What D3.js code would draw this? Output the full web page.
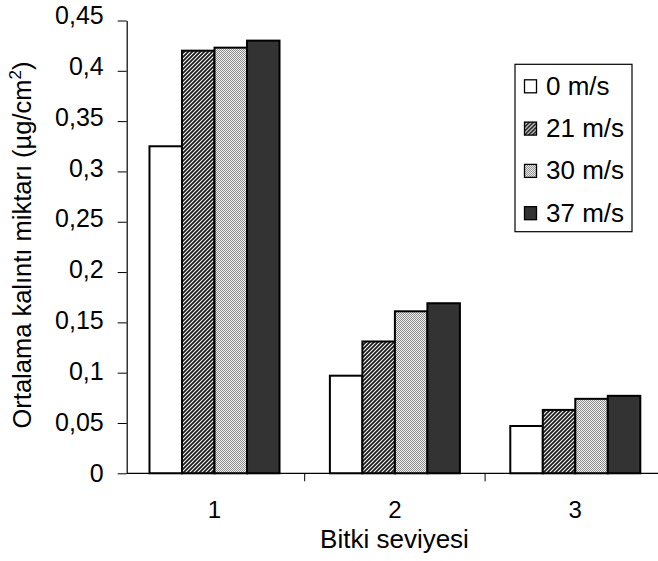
<!DOCTYPE html>
<html>
<head>
<meta charset="utf-8">
<script src="https://cdn.jsdelivr.net/npm/d3@7"></script>
<style>
  body { margin: 0; background: #fff; }
  svg { display: block; font-family: "Liberation Sans", Arial, sans-serif; }
</style>
</head>
<body>
<script>
const categories = ["1", "2", "3"];
const seriesNames = ["0 m/s", "21 m/s", "30 m/s", "37 m/s"];
const v0 = [0.325, 0.097, 0.047];
const v21 = [0.420, 0.131, 0.063];
const v30 = [0.423, 0.161, 0.074];
const v37 = [0.430, 0.169, 0.077];
const yTicks = [0, 0.05, 0.1, 0.15, 0.2, 0.25, 0.3, 0.35, 0.4, 0.45];
const yTickLabels = ["0", "0,05", "0,1", "0,15", "0,2", "0,25", "0,3", "0,35", "0,4", "0,45"];

const series = [v0, v21, v30, v37];
const width = 658, height = 561;
const axisX = 126.7;

const svg = d3.select("body").append("svg")
    .attr("width", width)
    .attr("height", height);

const defs = svg.append("defs");
defs.append("pattern")
    .attr("id", "hatch")
    .attr("patternUnits", "userSpaceOnUse")
    .attr("width", 4).attr("height", 4)
  .call(p => {
    p.append("rect").attr("width", 4).attr("height", 4).attr("fill", "#fff");
    p.append("path").attr("d", "M-1,1 l2,-2 M0,4 l4,-4 M3,5 l2,-2")
        .attr("stroke", "#1a1a1a").attr("stroke-width", 1.8);
  });
defs.append("pattern")
    .attr("id", "dots")
    .attr("patternUnits", "userSpaceOnUse")
    .attr("width", 2).attr("height", 2)
  .call(p => {
    p.append("rect").attr("width", 2).attr("height", 2).attr("fill", "#f2f2f2");
    p.append("rect").attr("width", 1).attr("height", 1).attr("fill", "#8a8a8a");
    p.append("rect").attr("x", 1).attr("y", 1).attr("width", 1).attr("height", 1).attr("fill", "#8a8a8a");
  });

const fills = ["#fff", "url(#hatch)", "url(#dots)", "#333"];

const x = d3.scaleBand()
    .domain(categories)
    .range([124.3, 665.5]);

const x1 = d3.scaleBand()
    .domain(d3.range(series.length))
    .range([0, x.bandwidth()])
    .paddingInner(0)
    .paddingOuter(0.775);

const y = d3.scaleLinear()
    .domain([0, 0.45])
    .range([473.3, 20.5]);

// bars
series.forEach((vals, s) => {
  svg.append("g")
    .selectAll("rect")
    .data(vals)
    .join("rect")
      .attr("x", (d, i) => x(categories[i]) + x1(s))
      .attr("y", d => y(d))
      .attr("width", x1.bandwidth())
      .attr("height", d => y(0) - y(d))
      .attr("fill", fills[s])
      .attr("stroke", "#000")
      .attr("stroke-width", 2);
});

// y axis
const yAxis = svg.append("g")
    .attr("transform", `translate(${axisX},0)`)
    .call(d3.axisLeft(y).tickValues(yTicks).tickSize(9).tickSizeOuter(0)
      .tickFormat((d, i) => yTickLabels[i]));
yAxis.select(".domain").attr("stroke", "#000").attr("stroke-width", 1.2);
yAxis.selectAll(".tick line").attr("stroke", "#000");
yAxis.selectAll(".tick text")
    .attr("x", -23)
    .attr("y", d => -5 * d / 0.45)
    .attr("font-size", 25)
    .attr("font-family", "Liberation Sans, Arial, sans-serif")
    .attr("fill", "#000");

// x axis
const xAxis = svg.append("g")
    .attr("transform", `translate(0,${y(0)})`);
xAxis.append("line")
    .attr("x1", axisX).attr("x2", width)
    .attr("stroke", "#000").attr("stroke-width", 1.2);
xAxis.selectAll(".sep")
  .data(categories.slice(1))
  .join("line")
    .attr("x1", d => x(d)).attr("x2", d => x(d))
    .attr("y1", 0).attr("y2", 8)
    .attr("stroke", "#000");
xAxis.selectAll(".lbl")
  .data(categories)
  .join("text")
    .attr("x", d => x(d) + x.bandwidth() / 2)
    .attr("y", 45)
    .attr("text-anchor", "middle")
    .attr("font-size", 24)
    .text(d => d);

svg.append("text")
    .attr("x", 394.5)
    .attr("y", 547.5)
    .attr("text-anchor", "middle")
    .attr("font-size", 26)
    .text("Bitki seviyesi");

const yTitle = svg.append("text")
    .attr("transform", "translate(31,245) rotate(-90)")
    .attr("text-anchor", "middle")
    .attr("font-size", 25.5);
yTitle.append("tspan").text("Ortalama kalıntı miktarı (µg/cm");
yTitle.append("tspan").attr("font-size", 17).attr("dy", -10).text("2");
yTitle.append("tspan").attr("dy", 10).text(")");

// legend
const legend = svg.append("g").attr("transform", "translate(515,64.3)");
legend.append("rect")
    .attr("width", 117).attr("height", 167.4)
    .attr("fill", "#fff").attr("stroke", "#000").attr("stroke-width", 1.2);
const item = legend.selectAll(".item")
  .data(seriesNames)
  .join("g")
    .attr("transform", (d, i) => `translate(0,${22 + i * 42.3})`);
item.append("rect")
    .attr("x", 9.5).attr("y", -6.5).attr("width", 12).attr("height", 13)
    .attr("fill", (d, i) => fills[i])
    .attr("stroke", "#000").attr("stroke-width", 1.3);
item.append("text")
    .attr("x", 31).attr("y", 8.5)
    .attr("font-size", 26)
    .text(d => d);
</script>
</body>
</html>
